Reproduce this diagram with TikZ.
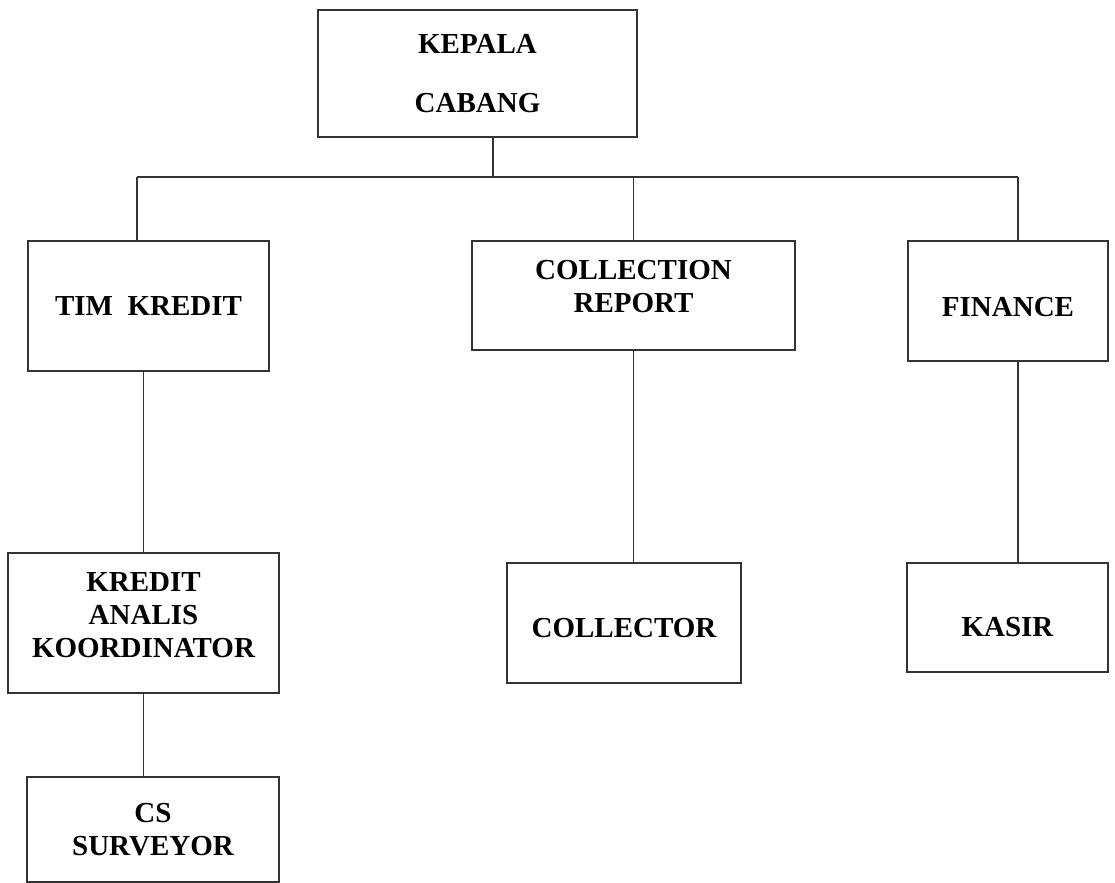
\documentclass[tikz,border=0pt]{standalone}
\usepackage{fontspec}
\setmainfont{Liberation Serif}
\usetikzlibrary{calc}
\tikzset{
  unit/.style={draw=black!80, line width=0.8pt, fill=white, align=center,
    font=\bfseries\fontsize{14.5}{16.5}\selectfont, inner sep=0pt, outer sep=0pt},
  link/.style={draw=black!80, line width=0.8pt},
}

\begin{document}
\begin{tikzpicture}[x=0.5pt, y=-0.5pt]
  \fill[white] (0,0) rectangle (1115,883);
  \useasboundingbox (0,0) rectangle (1115,883);
  % top
  \node[unit, minimum width=159.5pt, minimum height=63.5pt] (kepala) at (477.5,73.5) {KEPALA\\[13pt]CABANG};
  % second level
  \node[unit, minimum width=120.5pt, minimum height=65pt] (tim) at (148.5,306) {TIM\ \ KREDIT};
  \node[unit, minimum width=161.5pt, minimum height=54.5pt, text depth=9.5pt] (coll) at (633.5,295.5) {COLLECTION\\REPORT};
  \node[unit, minimum width=100pt, minimum height=60pt, text height=15.6pt] (finance) at (1008,301) {FINANCE};
  % third level
  \node[unit, minimum width=135.5pt, minimum height=70pt, text depth=8pt] (analis) at (143.5,623) {KREDIT\\ANALIS\\KOORDINATOR};
  \node[unit, minimum width=117pt, minimum height=60pt, text height=14.6pt] (collector) at (624,623) {COLLECTOR};
  \node[unit, minimum width=100.5pt, minimum height=54.5pt, text height=19.6pt] (kasir) at (1007.5,617.5) {KASIR};
  % bottom
  \node[unit, minimum width=126pt, minimum height=52.5pt] (cs) at (153,829.5) {CS\\SURVEYOR};

  % connectors
  \coordinate (busL) at (137,177);
  \coordinate (busK) at (493,177);
  \coordinate (busR) at (1018,177);
  \draw[link] (kepala.south -| busK) -- (busK);
  \draw[link] (busL) -- (busR);
  \draw[link] (busL) -- (busL |- tim.north);
  \draw[link] (coll.north |- busK) -- (coll.north);
  \draw[link] (busR) -- (busR |- finance.north);
  \draw[link] (analis.north |- tim.south) -- (analis.north);
  \draw[link] (analis.south) -- (analis.south |- cs.north);
  \draw[link] (coll.south) -- (coll.south |- collector.north);
  \draw[link] (busR |- finance.south) -- (busR |- kasir.north);
\end{tikzpicture}
\end{document}
